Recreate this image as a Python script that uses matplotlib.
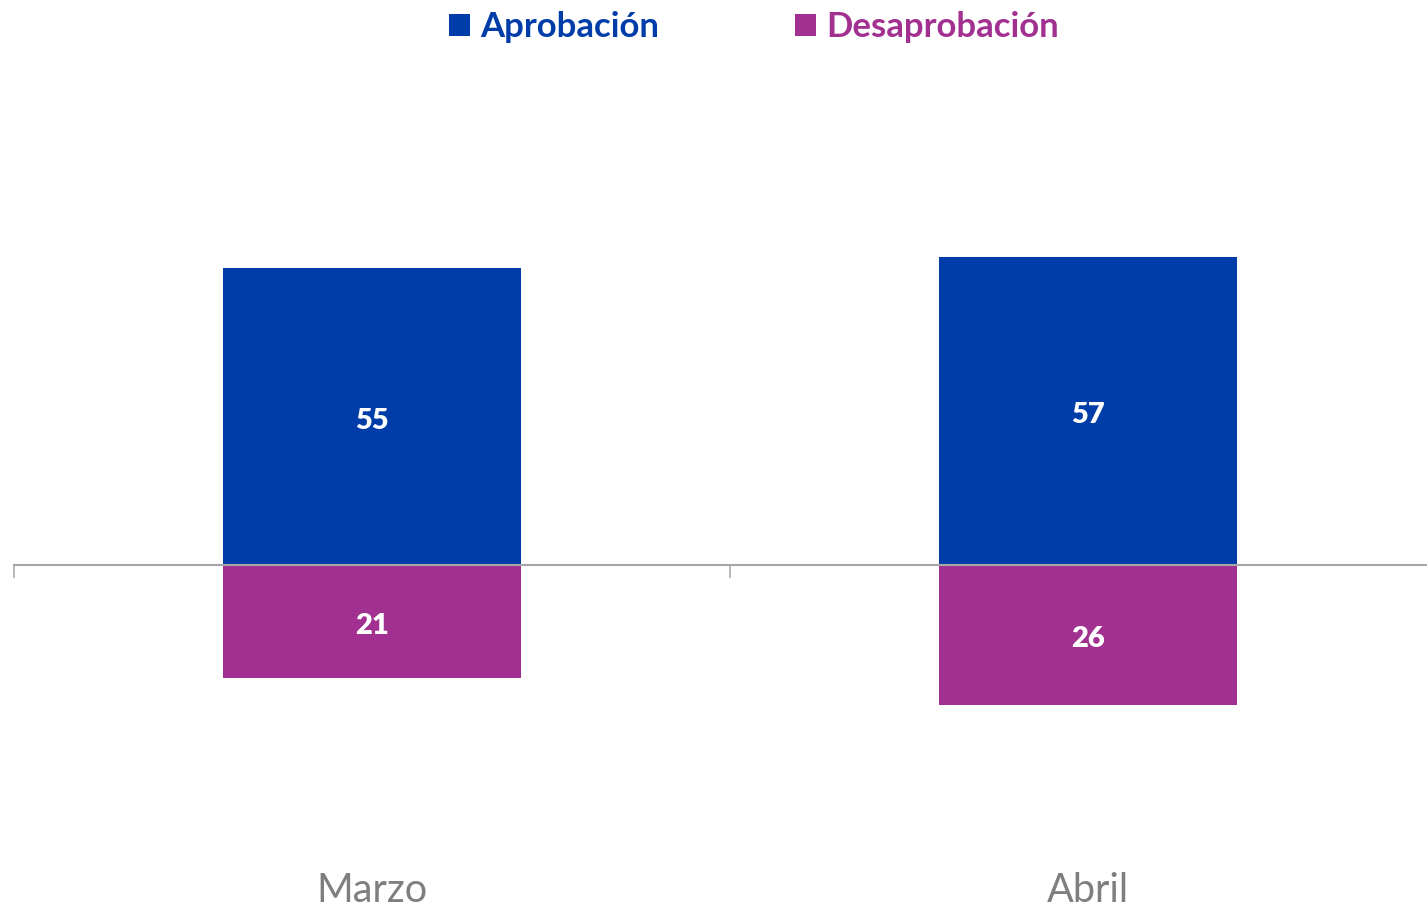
import matplotlib
matplotlib.use("Agg")
import matplotlib.pyplot as plt
from matplotlib.patches import Patch

categories = ["Marzo", "Abril"]
aprobacion = [55, 57]
desaprobacion = [21, 26]
series_names = ["Aprobación", "Desaprobación"]

BLUE = "#003DA8"
MAGENTA = "#A13090"
GRAY = "#A6A6A6"
FONT = ["Lato", "DejaVu Sans"]

W, H = 1427, 907
fig = plt.figure(figsize=(W / 100, H / 100), dpi=100)
ax = fig.add_axes([14 / W, 0, 1432 / W, 1])

x = list(range(len(categories)))
bw = 0.416
ax.bar(x, aprobacion, width=bw, color=BLUE, zorder=2)
ax.bar(x, [-v for v in desaprobacion], width=bw, color=MAGENTA, zorder=2)

ppu = 5.4
ax.set_xlim(-0.5, len(categories) - 0.5)
ax.set_ylim(-(H - 565) / ppu, 565 / ppu)

for s in ["top", "right", "left"]:
    ax.spines[s].set_visible(False)
ax.spines["bottom"].set_position(("data", 0))
ax.spines["bottom"].set_color(GRAY)
ax.spines["bottom"].set_linewidth(1.5)
ax.spines["bottom"].set_zorder(3)
ax.set_yticks([])
ax.set_xticks([i - 0.5 for i in range(len(categories) + 1)])
ax.set_xticklabels([])
ax.tick_params(axis="x", direction="out", length=9.5, width=1.1, color=GRAY)

for i, (a, d) in enumerate(zip(aprobacion, desaprobacion)):
    ax.text(i, a / 2 - 0.75, f"{a}", ha="center", va="center", color="white",
            fontsize=21, fontweight="heavy", family=FONT, zorder=4)
    ax.text(i, -d / 2 - 0.75, f"{d}", ha="center", va="center", color="white",
            fontsize=21, fontweight="heavy", family=FONT, zorder=4)
    ax.text(i, -(890 - 565) / ppu, categories[i], ha="center", va="center",
            color="#7F7F7F", fontsize=28.5, family=FONT)

handles = [Patch(facecolor=BLUE), Patch(facecolor=MAGENTA)]
leg = fig.legend(handles, series_names, loc="center", bbox_to_anchor=(754 / W, 1 - 27 / H),
                 ncol=2, frameon=False, handlelength=0.6, handleheight=0.6,
                 handletextpad=0.3, columnspacing=3.9,
                 prop={"family": FONT, "weight": "bold", "size": 25})
for t, c in zip(leg.get_texts(), [BLUE, MAGENTA]):
    t.set_color(c)

fig.savefig("out.png", dpi=100)
